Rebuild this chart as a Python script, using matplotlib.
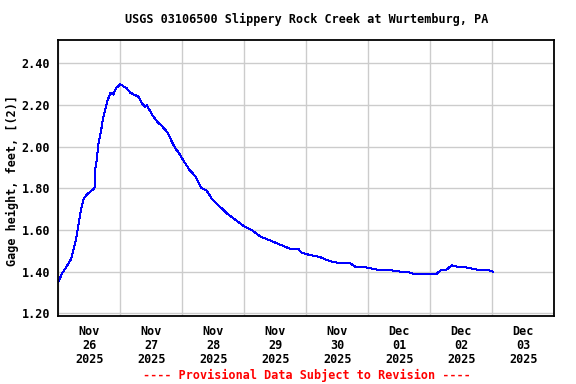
import numpy as np
import pandas as pd
import matplotlib
matplotlib.use('Agg')
import matplotlib.pyplot as plt
import matplotlib.dates as mdates

# gage height readings, hours after 2025-11-26 00:00
hours = [0, 1.4, 3.0, 4.9, 6.2, 7.1, 7.9, 8.8, 9.8, 11.0, 12.0, 13.0, 14.0,
         14.3, 14.9, 15.6, 16.5, 17.2, 18.0, 19.0, 20.3, 21.3, 22.3, 24.0,
         25.2, 26.5, 27.8, 29.3, 31.0, 32.3, 33.6, 34.2, 36.5, 38.3, 40.0,
         42.2, 44.1, 45.4, 46.7, 48.1, 50.7, 52.9, 55.5, 57.4, 59.4, 61.9,
         65.2, 68.4, 71.6, 74.9, 78.0, 81.9, 85.8, 89.7, 92.9, 94.2, 97.4,
         101.3, 105.2, 109.0, 112.9, 115.5, 119.4, 123.3, 127.1, 132.3,
         134.9, 137.4, 141.3, 144.5, 146.5, 148.4, 150.3, 152.3, 155.5,
         158.1, 162.0, 165.8, 168.4]
gage_ft = [1.35, 1.39, 1.42, 1.46, 1.52, 1.57, 1.63, 1.70, 1.75, 1.77, 1.78,
           1.79, 1.80, 1.89, 1.94, 2.02, 2.07, 2.13, 2.17, 2.22, 2.26, 2.25,
           2.28, 2.30, 2.29, 2.28, 2.26, 2.25, 2.24, 2.21, 2.19, 2.20, 2.15,
           2.12, 2.10, 2.07, 2.02, 1.99, 1.97, 1.94, 1.89, 1.86, 1.80, 1.79,
           1.75, 1.72, 1.68, 1.65, 1.62, 1.60, 1.57, 1.55, 1.53, 1.51, 1.51,
           1.49, 1.48, 1.47, 1.45, 1.44, 1.44, 1.42, 1.42, 1.41, 1.41, 1.40,
           1.40, 1.39, 1.39, 1.39, 1.39, 1.41, 1.41, 1.43, 1.42, 1.42, 1.41,
           1.41, 1.40]
yticks = [1.20, 1.40, 1.60, 1.80, 2.00, 2.20, 2.40]

start = pd.Timestamp('2025-11-26')
times = start + pd.to_timedelta(hours, unit='h')

font = 'DejaVu Sans Mono'
fs = 8.5

fig = plt.figure(figsize=(5.76, 3.84), dpi=100)
ax = fig.add_axes([0.1012, 0.1779, 0.8611, 0.7179])

ax.plot(times, gage_ft, color='#0000ff', lw=0.72, antialiased=False)

ax.set_xlim(start, start + pd.Timedelta(days=8))
ax.set_ylim(1.1885, 2.512)

# gridlines at midnight, date labels at noon
ax.xaxis.set_major_locator(mdates.DayLocator())
ax.xaxis.set_major_formatter(plt.NullFormatter())
ax.xaxis.set_minor_locator(mdates.HourLocator(byhour=[12]))
ax.xaxis.set_minor_formatter(mdates.DateFormatter('%b\n%d\n%Y'))
ax.set_yticks(yticks)
ax.set_yticklabels(['%.2f' % v for v in yticks])

ax.grid(True, which='major', color='#cccccc', lw=1.0)
ax.set_axisbelow(True)
ax.tick_params(which='both', length=0)
ax.tick_params(axis='y', pad=6)
ax.tick_params(axis='x', which='minor', pad=7)
for lab in ax.get_yticklabels() + ax.get_xticklabels(minor=True):
    lab.set_fontfamily(font)
    lab.set_fontweight('bold')
    lab.set_fontsize(fs)
for lab in ax.get_xticklabels(minor=True):
    lab.set_linespacing(1.1)
for s in ax.spines.values():
    s.set_linewidth(1.3)

fig.text(0.532, 0.95, 'USGS 03106500 Slippery Rock Creek at Wurtemburg, PA',
         ha='center', va='center', family=font, weight='bold', size=fs)
fig.text(0.021, 0.53, 'Gage height, feet, [(2)]', rotation=90,
         ha='center', va='center', family=font, weight='bold', size=fs)
fig.text(0.532, 0.022, '---- Provisional Data Subject to Revision ----',
         ha='center', va='center', family=font, weight='bold', size=fs,
         color='#ff0000')

fig.savefig('out.png', dpi=100)
